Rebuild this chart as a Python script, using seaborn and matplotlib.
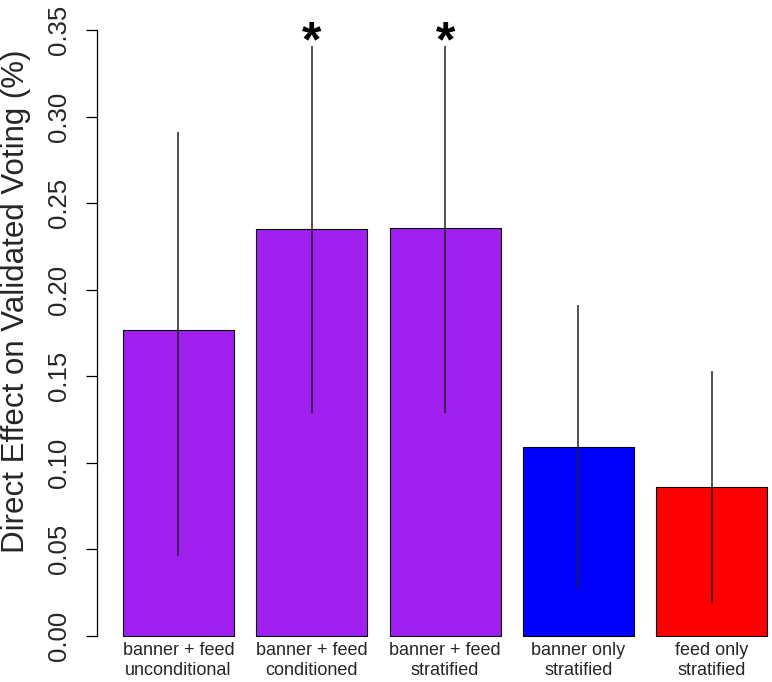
import matplotlib
matplotlib.use("Agg")
import matplotlib.pyplot as plt
import seaborn as sns

# data
labels = ["banner + feed\nunconditional", "banner + feed\nconditioned",
          "banner + feed\nstratified", "banner only\nstratified",
          "feed only\nstratified"]
effect = [0.177, 0.235, 0.2355, 0.109, 0.086]
ci_low = [0.046, 0.129, 0.129, 0.027, 0.019]
ci_high = [0.291, 0.341, 0.341, 0.191, 0.153]
signif = [False, True, True, False, False]
colors = ["#A020F0", "#A020F0", "#A020F0", "#0000FF", "#FF0000"]
yticks = [0.00, 0.05, 0.10, 0.15, 0.20, 0.25, 0.30, 0.35]

sns.set_style("white")
plt.rcParams["font.family"] = ["Liberation Sans", "DejaVu Sans"]

fig = plt.figure(figsize=(7.72, 6.82), dpi=100)
ax = fig.add_axes([97 / 772, 22 / 682, 675 / 772, 654 / 682])

sns.barplot(x=labels, y=effect, hue=labels, palette=colors, saturation=1,
            width=0.833, edgecolor="black", linewidth=0.8, legend=False, ax=ax)

xs = range(len(labels))
ax.vlines(xs, ci_low, ci_high, color="#222222", linewidth=1.1, zorder=5)
for x, s, top in zip(xs, signif, ci_high):
    if s:
        ax.text(x, top - 0.006, "*", ha="center", va="baseline",
                fontsize=36, fontweight="bold", color="black")

ax.set_xlim(-0.611, 4.452)
ax.set_ylim(-0.014, 0.364)
ax.set_yticks(yticks)
ax.set_yticklabels([f"{t:.2f}" for t in yticks])
ax.tick_params(axis="y", labelrotation=90, length=8, width=0.9, pad=11,
               labelsize=18.5, left=True, color="black")
for lab in ax.get_yticklabels():
    lab.set_va("center")
ax.tick_params(axis="x", length=0, pad=-13, labelsize=13)
for lab in ax.get_xticklabels():
    lab.set_va("top")

for side in ["top", "right", "bottom"]:
    ax.spines[side].set_visible(False)
ax.spines["left"].set_bounds(0, 0.35)
ax.spines["left"].set_linewidth(0.9)
ax.spines["left"].set_color("black")

ax.set_xlabel("")
ax.set_ylabel("Direct Effect on Validated Voting (%)", fontsize=22.5)
ax.yaxis.set_label_coords(-0.098, 0.549)

fig.savefig("out.png", dpi=100)
